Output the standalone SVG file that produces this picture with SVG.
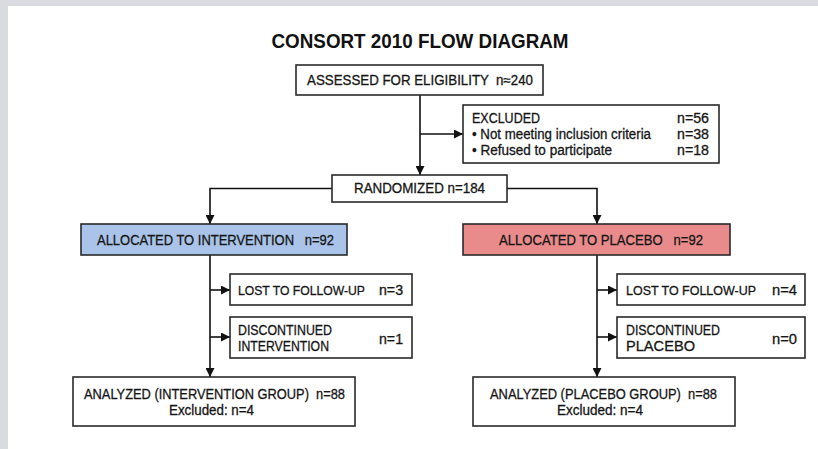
<svg xmlns="http://www.w3.org/2000/svg" width="818" height="449" viewBox="0 0 818 449">
  <defs>
    <style>
      .frame { fill: #dadbe0; }
      .box { fill: #ffffff; stroke: #2a2a2a; stroke-width: 1.6; }
      .box.blue { fill: #a9c4e8; }
      .box.red { fill: #ea8b8b; }
      .wire { fill: none; stroke: #111111; stroke-width: 1.6; }
      text { font-family: "Liberation Sans", Arial, sans-serif; fill: #161616; stroke: #161616; stroke-width: 0.3; font-size: 14px; white-space: pre; }
      .title { font-size: 21px; font-weight: bold; fill: #111111; stroke: none; }
      .sm { font-size: 13px; }
      .mid { text-anchor: middle; }
      .end { text-anchor: end; }
    </style>
    <marker id="arrow" viewBox="0 0 10 10" refX="10" refY="5" markerWidth="9" markerHeight="9" markerUnits="userSpaceOnUse" orient="auto">
      <path d="M0,0 L10,5 L0,10 Z" fill="#111111"/>
    </marker>
  </defs>

  <!-- page background with grey border strips -->
  <rect x="0" y="0" width="818" height="449" class="frame"/>
  <rect x="8" y="6" width="810" height="443" fill="#ffffff"/>

  <text x="420" y="48" class="title mid" textLength="297" lengthAdjust="spacingAndGlyphs">CONSORT 2010 FLOW DIAGRAM</text>

  <!-- connectors -->
  <g id="connectors">
    <path class="wire" d="M420,95 V175" marker-end="url(#arrow)"/>
    <path class="wire" d="M420,134 H463" marker-end="url(#arrow)"/>
    <path class="wire" d="M332,188.5 H210 V224" marker-end="url(#arrow)"/>
    <path class="wire" d="M507,188.5 H597 V224" marker-end="url(#arrow)"/>
    <path class="wire" d="M210,255 V377" marker-end="url(#arrow)"/>
    <path class="wire" d="M210,290 H230" marker-end="url(#arrow)"/>
    <path class="wire" d="M210,337 H230" marker-end="url(#arrow)"/>
    <path class="wire" d="M597,255 V377" marker-end="url(#arrow)"/>
    <path class="wire" d="M597,290 H617" marker-end="url(#arrow)"/>
    <path class="wire" d="M597,337 H617" marker-end="url(#arrow)"/>
  </g>

  <g id="assessed">
    <rect class="box" x="296" y="65" width="247" height="30"/>
    <text x="307" y="85" textLength="226" lengthAdjust="spacingAndGlyphs">ASSESSED FOR ELIGIBILITY  n≈240</text>
  </g>

  <g id="excluded">
    <rect class="box" x="463" y="105" width="256" height="58"/>
    <text x="472" y="123" textLength="68" lengthAdjust="spacingAndGlyphs">EXCLUDED</text>
    <text x="472" y="139" textLength="179" lengthAdjust="spacingAndGlyphs">• Not meeting inclusion criteria</text>
    <text x="472" y="155" textLength="140" lengthAdjust="spacingAndGlyphs">• Refused to participate</text>
    <text x="709" y="123" class="end" textLength="32" lengthAdjust="spacingAndGlyphs">n=56</text>
    <text x="709" y="139" class="end" textLength="32" lengthAdjust="spacingAndGlyphs">n=38</text>
    <text x="709" y="155" class="end" textLength="32" lengthAdjust="spacingAndGlyphs">n=18</text>
  </g>

  <g id="randomized">
    <rect class="box" x="332" y="175" width="175" height="27"/>
    <text x="354" y="193" textLength="131" lengthAdjust="spacingAndGlyphs">RANDOMIZED n=184</text>
  </g>

  <g id="alloc-intervention">
    <rect class="box blue" x="81" y="224" width="266" height="31"/>
    <text x="97" y="245" textLength="237" lengthAdjust="spacingAndGlyphs">ALLOCATED TO INTERVENTION   n=92</text>
  </g>

  <g id="alloc-placebo">
    <rect class="box red" x="463" y="224" width="267" height="31"/>
    <text x="499" y="245" textLength="204" lengthAdjust="spacingAndGlyphs">ALLOCATED TO PLACEBO   n=92</text>
  </g>

  <g id="lost-intervention">
    <rect class="box" x="230" y="274" width="182" height="31"/>
    <text x="238" y="295" class="sm" textLength="127" lengthAdjust="spacingAndGlyphs">LOST TO FOLLOW-UP</text>
    <text x="403" y="295" class="end" textLength="24" lengthAdjust="spacingAndGlyphs">n=3</text>
  </g>

  <g id="discontinued-intervention">
    <rect class="box" x="230" y="317" width="182" height="41"/>
    <text x="238" y="335" textLength="94" lengthAdjust="spacingAndGlyphs">DISCONTINUED</text>
    <text x="238" y="351" textLength="91" lengthAdjust="spacingAndGlyphs">INTERVENTION</text>
    <text x="403" y="344" class="end" textLength="24" lengthAdjust="spacingAndGlyphs">n=1</text>
  </g>

  <g id="lost-placebo">
    <rect class="box" x="617" y="274" width="188" height="31"/>
    <text x="626" y="295" class="sm" textLength="130" lengthAdjust="spacingAndGlyphs">LOST TO FOLLOW-UP</text>
    <text x="797" y="295" class="end" textLength="25" lengthAdjust="spacingAndGlyphs">n=4</text>
  </g>

  <g id="discontinued-placebo">
    <rect class="box" x="617" y="317" width="188" height="41"/>
    <text x="626" y="335" textLength="94" lengthAdjust="spacingAndGlyphs">DISCONTINUED</text>
    <text x="626" y="351" textLength="69" lengthAdjust="spacingAndGlyphs">PLACEBO</text>
    <text x="797" y="344" class="end" textLength="25" lengthAdjust="spacingAndGlyphs">n=0</text>
  </g>

  <g id="analyzed-intervention">
    <rect class="box" x="73" y="377" width="282" height="49"/>
    <text x="214.5" y="399" class="mid" textLength="261" lengthAdjust="spacingAndGlyphs">ANALYZED (INTERVENTION GROUP)  n=88</text>
    <text x="211.5" y="415" class="mid" textLength="85" lengthAdjust="spacingAndGlyphs">Excluded: n=4</text>
  </g>

  <g id="analyzed-placebo">
    <rect class="box" x="473" y="377" width="262" height="49"/>
    <text x="603.5" y="399" class="mid" textLength="227" lengthAdjust="spacingAndGlyphs">ANALYZED (PLACEBO GROUP)  n=88</text>
    <text x="600" y="415" class="mid" textLength="86" lengthAdjust="spacingAndGlyphs">Excluded: n=4</text>
  </g>
</svg>
